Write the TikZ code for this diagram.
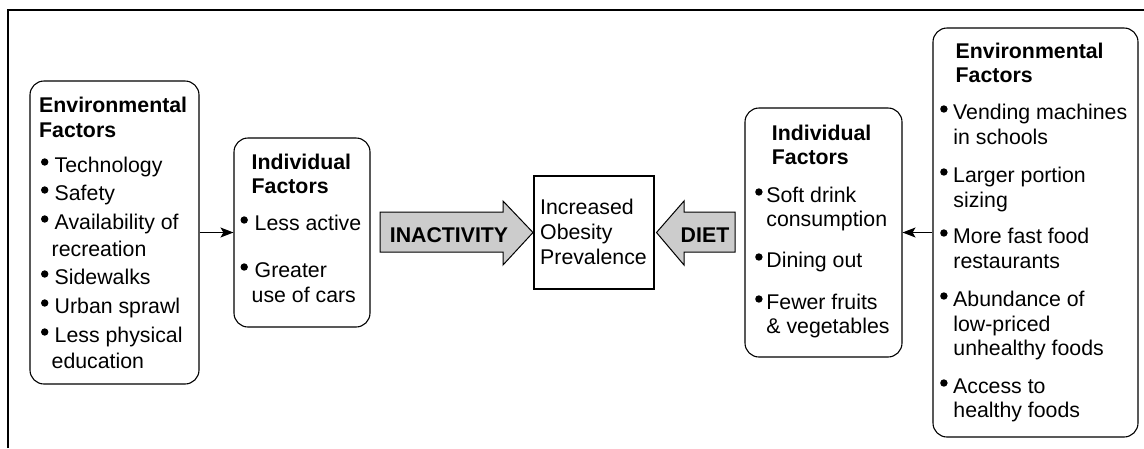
\documentclass[tikz,border=0pt]{standalone}
\usepackage{fontspec}
\setmainfont{Liberation Sans}
\usetikzlibrary{arrows.meta}
\newcommand\bul[1][15pt]{\makebox[#1][l]{\hspace{1.3pt}\tikz[baseline=0pt]{\path (0pt,0pt); \fill (3.7pt,10pt) circle[radius=3.7pt];}}}
\begin{document}
\begin{tikzpicture}[x=1pt,y=-1pt,
  box/.style={draw, line width=1.1pt, rounded corners=14pt, inner sep=0, minimum width=#1},
  sqbox/.style={draw, line width=1.1pt, inner sep=0},
  txt/.style={anchor=base west, inner sep=0, font=\fontsize{21.3}{25}\selectfont},
  link/.style={line width=1pt, -{Stealth[length=13pt,width=10pt,inset=3pt]}},
  bigarrow/.style={draw, line width=1pt, fill=gray!40},
  lbl/.style={anchor=base, inner sep=0, font=\fontsize{21.3}{25}\selectfont\bfseries}]
\useasboundingbox (0,0) rectangle (1144,448);
% outer frame
\draw[line width=1.3pt] (8,448) -- (8,10) -- (1144,10);

% boxes
\node[box=169pt, minimum height=303pt] (envL) at (114.5,232.5) {};
\node[box=136pt, minimum height=189pt] (indL) at (302,232.5) {};
\node[sqbox, minimum width=120pt, minimum height=113pt] (center) at (594,232.5) {};
\node[box=157pt, minimum height=249pt] (indR) at (823.5,232.5) {};
\node[box=205pt, minimum height=409pt] (envR) at (1035.5,232.5) {};

% connectors
\draw[link] (envL.east) -- (indL.west);
\draw[link] (envR.west) -- (indR.east);

% big arrows
\draw[bigarrow] (380,212) -- (503,212) -- (503,201) -- (533,232.5) -- (503,265) -- (503,252) -- (380,252) -- cycle;
\draw[bigarrow] (735,212) -- (684,212) -- (684,201) -- (656.5,232.5) -- (684,265) -- (684,252) -- (735,252) -- cycle;
\node[lbl] (inact) at (449,242) {INACTIVITY};
\node[lbl] (diet) at (705,242) {DIET};

% texts
\node[txt] (envLt) at (39.5,112) {\begin{tabular}[t]{@{}l@{}}
\hspace{-0.5pt}\textbf{Environmental}\\
\hspace{-0.5pt}\textbf{Factors}\\[10pt]
\bul Technology\\[3pt]
\bul Safety\\[4pt]
\bul Availability of\\[2pt]
\hspace{12pt}recreation\\[3pt]
\bul Sidewalks\\[4pt]
\bul Urban sprawl\\[4pt]
\bul Less physical\\[1pt]
\hspace{12pt}education
\end{tabular}};

\node[txt] (indLt) at (239,169) {\begin{tabular}[t]{@{}l@{}}
\hspace{12.5pt}\textbf{Individual}\\[-1pt]
\hspace{12.5pt}\textbf{Factors}\\[12pt]
\bul[15.5pt]Less active\\[22pt]
\bul[15.5pt]Greater\\
\hspace{12.5pt}use of cars
\end{tabular}};

\node[txt] (centert) at (540,214) {\begin{tabular}[t]{@{}l@{}}
Increased\\
Obesity\\
Prevalence
\end{tabular}};

\node[txt] (indRt) at (753.7,140) {\begin{tabular}[t]{@{}l@{}}
\hspace{18pt}\textbf{Individual}\\[-1pt]
\hspace{18pt}\textbf{Factors}\\[13pt]
\bul[12.5pt]Soft drink\\[-1pt]
\hspace{12.5pt}consumption\\[16pt]
\bul[12.5pt]Dining out\\[17pt]
\bul[12.5pt]Fewer fruits\\[-1pt]
\hspace{12.5pt}\& vegetables
\end{tabular}};

\node[txt] (envRt) at (938.7,58) {\begin{tabular}[t]{@{}l@{}}
\hspace{16.8pt}\textbf{Environmental}\\[-1pt]
\hspace{16.8pt}\textbf{Factors}\\[12pt]
\bul[14.3pt]Vending machines\\
\hspace{14.5pt}in schools\\[13pt]
\bul[14.3pt]Larger portion\\
\hspace{14.5pt}sizing\\[11pt]
\bul[14.3pt]More fast food\\
\hspace{14.5pt}restaurants\\[13pt]
\bul[14.3pt]Abundance of\\
\hspace{14.5pt}low-priced\\[-1pt]
\hspace{14.5pt}unhealthy foods\\[13pt]
\bul[14.3pt]Access to\\[-1pt]
\hspace{14.5pt}healthy foods
\end{tabular}};
\end{tikzpicture}
\end{document}
